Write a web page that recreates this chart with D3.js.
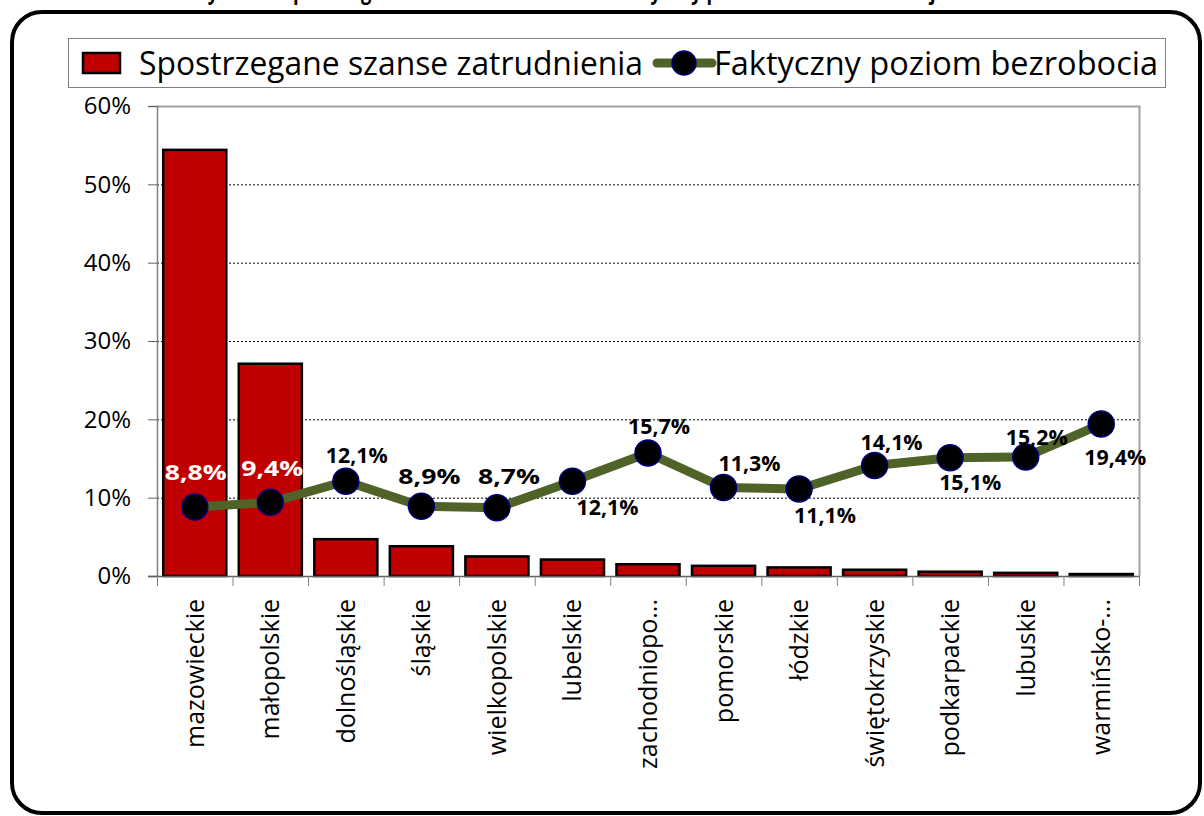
<!DOCTYPE html>
<html>
<head>
<meta charset="utf-8">
<script src="https://cdn.jsdelivr.net/npm/d3@7"></script>
<style>
  html, body { margin: 0; padding: 0; background: #ffffff; }
  svg { display: block; }
  text { font-family: "Open Sans", "Noto Sans", sans-serif; }
</style>
</head>
<body>
<svg id="chart" width="1204" height="816"></svg>
<script>
const regions = [
  "mazowieckie", "małopolskie", "dolnośląskie", "śląskie", "wielkopolskie",
  "lubelskie", "zachodniopo...", "pomorskie", "łódzkie", "świętokrzyskie",
  "podkarpackie", "lubuskie", "warmińsko-..."
];

// spostrzegane szanse zatrudnienia (%)
const perceived = [54.4, 27.1, 4.7, 3.8, 2.5, 2.1, 1.5, 1.3, 1.1, 0.8, 0.55, 0.4, 0.25];

// faktyczny poziom bezrobocia (%)
const unemployment = [8.8, 9.4, 12.1, 8.9, 8.7, 12.1, 15.7, 11.3, 11.1, 14.1, 15.1, 15.2, 19.4];

const yTicks = [0, 10, 20, 30, 40, 50, 60];

// label placement relative to the marker
const labelOffsets = [
  [1, -35], [2, -34], [11, -26], [8, -30], [12, -32], [35, 26], [11, -27],
  [26, -24], [26, 26], [17, -23], [20, 25], [11, -20], [14, 33]
];

const svg = d3.select("#chart");

const margin = { left: 157, right: 1139, top: 106, bottom: 576 };

// title (mostly outside the picture)
svg.append("text")
  .attr("x", 620)
  .attr("y", -1)
  .attr("text-anchor", "middle")
  .attr("font-size", 24)
  .attr("font-weight", 700)
  .attr("textLength", 860)
  .attr("lengthAdjust", "spacingAndGlyphs")
  .text("Wykres 1. Spostrzegane szanse zatrudnienia a faktyczny poziom bezrobocia w województwach");

// outer rounded frame
svg.append("rect")
  .attr("x", 12)
  .attr("y", 12)
  .attr("width", 1188)
  .attr("height", 801)
  .attr("rx", 30)
  .attr("fill", "none")
  .attr("stroke", "#000")
  .attr("stroke-width", 4);

const x = d3.scaleBand()
  .domain(regions)
  .range([margin.left, margin.right])
  .paddingInner(0.165)
  .paddingOuter(0.0825);

const y = d3.scaleLinear()
  .domain([0, 60])
  .range([margin.bottom, margin.top]);

// gridlines
svg.append("g")
  .selectAll("line")
  .data(yTicks.filter(t => t > 0 && t < 60))
  .enter()
  .append("line")
  .attr("x1", margin.left)
  .attr("x2", margin.right)
  .attr("y1", d => y(d) + 0.5)
  .attr("y2", d => y(d) + 0.5)
  .attr("stroke", "#000")
  .attr("stroke-width", 1)
  .attr("stroke-dasharray", "2,2");

// plot area border (top / right)
svg.append("path")
  .attr("d", `M${margin.left},${margin.top + 0.5}H${margin.right + 0.5}V${margin.bottom}`)
  .attr("fill", "none")
  .attr("stroke", "#a0a0a0")
  .attr("stroke-width", 2);

// bars
svg.append("g")
  .selectAll("rect")
  .data(perceived)
  .enter()
  .append("rect")
  .attr("x", (d, i) => x(regions[i]))
  .attr("y", d => y(d))
  .attr("width", x.bandwidth())
  .attr("height", d => y(0) - y(d))
  .attr("fill", "#c00000")
  .attr("stroke", "#000")
  .attr("stroke-width", 2.5);

// y axis
const yAxis = d3.axisLeft(y)
  .tickValues(yTicks)
  .tickSize(9)
  .tickPadding(17)
  .tickFormat(d => d + "%");

const yG = svg.append("g")
  .attr("transform", `translate(${margin.left},0)`)
  .call(yAxis);
yG.select(".domain").attr("stroke", "#808080").attr("stroke-width", 1.5);
yG.selectAll(".tick line").attr("stroke", "#606060");
yG.selectAll(".tick text")
  .attr("font-size", 24)
  .attr("fill", "#000")
  .attr("font-family", "'Open Sans', sans-serif");

// x axis line and boundary ticks
svg.append("line")
  .attr("x1", margin.left - 9)
  .attr("x2", margin.right)
  .attr("y1", margin.bottom + 0.5)
  .attr("y2", margin.bottom + 0.5)
  .attr("stroke", "#606060")
  .attr("stroke-width", 1.5);

const step = x.step();
svg.append("g")
  .selectAll("line")
  .data(d3.range(regions.length + 1))
  .enter()
  .append("line")
  .attr("x1", i => margin.left + i * step + 0.5)
  .attr("x2", i => margin.left + i * step + 0.5)
  .attr("y1", margin.bottom)
  .attr("y2", margin.bottom + 10)
  .attr("stroke", "#808080")
  .attr("stroke-width", 1);

// category labels
svg.append("g")
  .selectAll("text")
  .data(regions)
  .enter()
  .append("text")
  .attr("transform", d => `translate(${x(d) + x.bandwidth() / 2 + 9},${margin.bottom + 23}) rotate(-90)`)
  .attr("text-anchor", "end")
  .attr("font-size", 25)
  .attr("fill", "#000")
  .text(d => d);

// line series
const cx = i => x(regions[i]) + x.bandwidth() / 2;

const line = d3.line()
  .x((d, i) => cx(i))
  .y(d => y(d));

svg.append("path")
  .datum(unemployment)
  .attr("d", line)
  .attr("fill", "none")
  .attr("stroke", "#4f6228")
  .attr("stroke-width", 9)
  .attr("stroke-linejoin", "round");

svg.append("g")
  .selectAll("circle")
  .data(unemployment)
  .enter()
  .append("circle")
  .attr("cx", (d, i) => cx(i))
  .attr("cy", d => y(d))
  .attr("r", 13)
  .attr("fill", "#000")
  .attr("stroke", "#000080")
  .attr("stroke-width", 1.5);

// data labels
svg.append("g")
  .selectAll("text")
  .data(unemployment)
  .enter()
  .append("text")
  .attr("x", (d, i) => cx(i) + labelOffsets[i][0])
  .attr("y", (d, i) => y(d) + labelOffsets[i][1])
  .attr("dy", "0.35em")
  .attr("text-anchor", "middle")
  .attr("font-size", 22)
  .attr("font-weight", 700)
  .attr("textLength", 62)
  .attr("lengthAdjust", "spacingAndGlyphs")
  .attr("fill", (d, i) => i < 2 ? "#fff" : "#000")
  .text(d => d.toFixed(1).replace(".", ",") + "%");

// legend
const legend = svg.append("g");
legend.append("rect")
  .attr("x", 68.5)
  .attr("y", 38.5)
  .attr("width", 1097)
  .attr("height", 49)
  .attr("fill", "#fff")
  .attr("stroke", "#808080")
  .attr("stroke-width", 1);

legend.append("rect")
  .attr("x", 83)
  .attr("y", 53)
  .attr("width", 37)
  .attr("height", 20)
  .attr("fill", "#c00000")
  .attr("stroke", "#000")
  .attr("stroke-width", 2.5);

legend.append("text")
  .attr("x", 139)
  .attr("y", 75)
  .attr("font-size", 32)
  .attr("textLength", 504)
  .attr("lengthAdjust", "spacingAndGlyphs")
  .text("Spostrzegane szanse zatrudnienia");

legend.append("line")
  .attr("x1", 657)
  .attr("x2", 712)
  .attr("y1", 63)
  .attr("y2", 63)
  .attr("stroke", "#4f6228")
  .attr("stroke-width", 9)
  .attr("stroke-linecap", "round");

legend.append("circle")
  .attr("cx", 684)
  .attr("cy", 63)
  .attr("r", 12)
  .attr("fill", "#000")
  .attr("stroke", "#000080")
  .attr("stroke-width", 1.5);

legend.append("text")
  .attr("x", 714)
  .attr("y", 75)
  .attr("font-size", 32)
  .attr("textLength", 444)
  .attr("lengthAdjust", "spacingAndGlyphs")
  .text("Faktyczny poziom bezrobocia");
</script>
</body>
</html>
